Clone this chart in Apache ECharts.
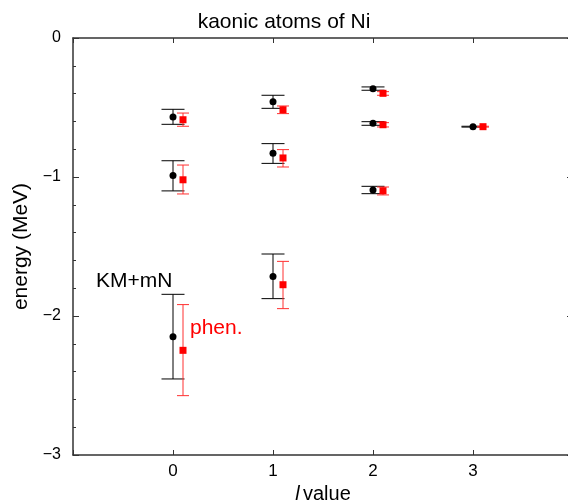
<!DOCTYPE html>
<html>
<head>
<meta charset="utf-8">
<script src="https://cdn.jsdelivr.net/npm/echarts@6/dist/echarts.min.js"></script>
<style>
  html, body { margin: 0; padding: 0; background: #fff; }
  #main { width: 568px; height: 500px; }
</style>
</head>
<body>
<div id="main"></div>
<script>
// KM+mN (black circles)
var kmX = [0, 0, 0, 1, 1, 1, 2, 2, 2, 3];
var kmY = [-0.568, -0.99, -2.149, -0.458, -0.83, -1.715, -0.365, -0.614, -1.094, -0.638];
var kmHi = [-0.513, -0.883, -1.844, -0.412, -0.76, -1.554, -0.352, -0.602, -1.067, -0.635];
var kmLo = [-0.621, -1.10, -2.453, -0.506, -0.902, -1.875, -0.376, -0.628, -1.12, -0.641];

// phen. (red squares)
var phX = [0.1, 0.1, 0.1, 1.1, 1.1, 1.1, 2.1, 2.1, 2.1, 3.1];
var phY = [-0.588, -1.02, -2.247, -0.516, -0.863, -1.775, -0.398, -0.624, -1.099, -0.638];
var phHi = [-0.54, -0.914, -1.918, -0.489, -0.803, -1.607, -0.386, -0.609, -1.072, -0.635];
var phLo = [-0.635, -1.122, -2.573, -0.544, -0.928, -1.947, -0.412, -0.64, -1.129, -0.641];

var xTicks = [0, 1, 2, 3];
var yTicks = [0, -1, -2, -3];

var FONT = "Liberation Sans";

function rows(xs, ys, his, los) {
  return xs.map(function (x, i) { return [x, ys[i], los[i], his[i]]; });
}

function errorBars(color, capHalf) {
  return function (params, api) {
    var x = api.value(0);
    var lo = api.coord([x, api.value(2)]);
    var hi = api.coord([x, api.value(3)]);
    var style = { stroke: color, lineWidth: 1 };
    return {
      type: "group",
      children: [
        { type: "line", shape: { x1: lo[0], y1: lo[1], x2: hi[0], y2: hi[1] }, style: style },
        { type: "line", shape: { x1: lo[0] - capHalf, y1: lo[1], x2: lo[0] + capHalf, y2: lo[1] }, style: style },
        { type: "line", shape: { x1: hi[0] - capHalf, y1: hi[1], x2: hi[0] + capHalf, y2: hi[1] }, style: style },
      ],
    };
  };
}

var axisLine = { show: true, onZero: false, lineStyle: { color: "#333", width: 1.5 } };

var chart = echarts.init(document.getElementById("main"));

var option = {
  animation: false,
  backgroundColor: "#fff",
  title: {
    text: "kaonic atoms of Ni",
    left: "center",
    top: 7,
    textStyle: { fontFamily: FONT, fontSize: 21, fontWeight: "normal", color: "#000" },
  },
  grid: { left: 73, top: 38, width: 500, height: 417, containLabel: false, outerBoundsMode: "none" },
  xAxis: [
    {
      type: "value",
      min: -1,
      max: 4,
      interval: 1,
      position: "bottom",
      axisLine: axisLine,
      axisTick: { show: true, inside: true, length: 5, lineStyle: { color: "#333" } },
      splitLine: { show: false },
      axisLabel: {
        fontFamily: FONT,
        fontSize: 17,
        color: "#000",
        margin: 8,
        formatter: function (v) { return xTicks.indexOf(v) >= 0 ? String(v) : ""; },
      },
      name: "{i|l} {n|value}",
      nameLocation: "middle",
      nameGap: 27,
      nameTextStyle: {
        rich: {
          i: { fontFamily: FONT, fontSize: 20, fontStyle: "italic", color: "#000" },
          n: { fontFamily: FONT, fontSize: 20, color: "#000" },
        },
      },
    },
    {
      type: "value",
      min: -1,
      max: 4,
      interval: 1,
      position: "top",
      axisLine: axisLine,
      axisTick: { show: true, inside: true, length: 5, lineStyle: { color: "#333" } },
      axisLabel: { show: false },
      splitLine: { show: false },
    },
  ],
  yAxis: [
    {
      type: "value",
      min: -3,
      max: 0,
      interval: 1,
      position: "left",
      axisLine: axisLine,
      axisTick: { show: true, inside: true, length: 6, lineStyle: { color: "#333" } },
      minorTick: { show: true, splitNumber: 5, length: 3, lineStyle: { color: "#333" } },
      splitLine: { show: false },
      axisLabel: {
        fontFamily: FONT,
        fontSize: 16,
        color: "#000",
        margin: 12,
        formatter: function (v) { return yTicks.indexOf(v) >= 0 ? String(v).replace("-", "\u2212") : ""; },
      },
      name: "energy (MeV)",
      nameLocation: "middle",
      nameGap: 41,
      nameTextStyle: { fontFamily: FONT, fontSize: 21, color: "#000" },
    },
    {
      type: "value",
      min: -3,
      max: 0,
      interval: 1,
      position: "right",
      axisLine: axisLine,
      axisTick: { show: true, inside: true, length: 6, lineStyle: { color: "#333" } },
      axisLabel: { show: false },
      splitLine: { show: false },
    },
  ],
  series: [
    {
      type: "custom",
      renderItem: errorBars("#000", 11.5),
      data: rows(kmX, kmY, kmHi, kmLo),
      encode: { x: 0, y: [1, 2, 3] },
      z: 2,
    },
    {
      type: "custom",
      renderItem: errorBars("#ff3030", 6),
      data: rows(phX, phY, phHi, phLo),
      encode: { x: 0, y: [1, 2, 3] },
      z: 2,
    },
    {
      type: "scatter",
      symbol: "circle",
      symbolSize: 7,
      itemStyle: { color: "#000", opacity: 1 },
      data: kmX.map(function (x, i) { return [x, kmY[i]]; }),
      z: 3,
    },
    {
      type: "scatter",
      symbol: "rect",
      symbolSize: 7,
      itemStyle: { color: "#ff0000", opacity: 1 },
      data: phX.map(function (x, i) { return [x, phY[i]]; }),
      z: 3,
    },
  ],
  graphic: [
    {
      type: "text",
      left: 96,
      top: 271,
      style: { text: "KM+mN", fontFamily: FONT, fontSize: 21, fill: "#000" },
    },
    {
      type: "text",
      left: 190,
      top: 318,
      style: { text: "phen.", fontFamily: FONT, fontSize: 21, fill: "#ff0000" },
    },
  ],
};

chart.setOption(option);
</script>
</body>
</html>
